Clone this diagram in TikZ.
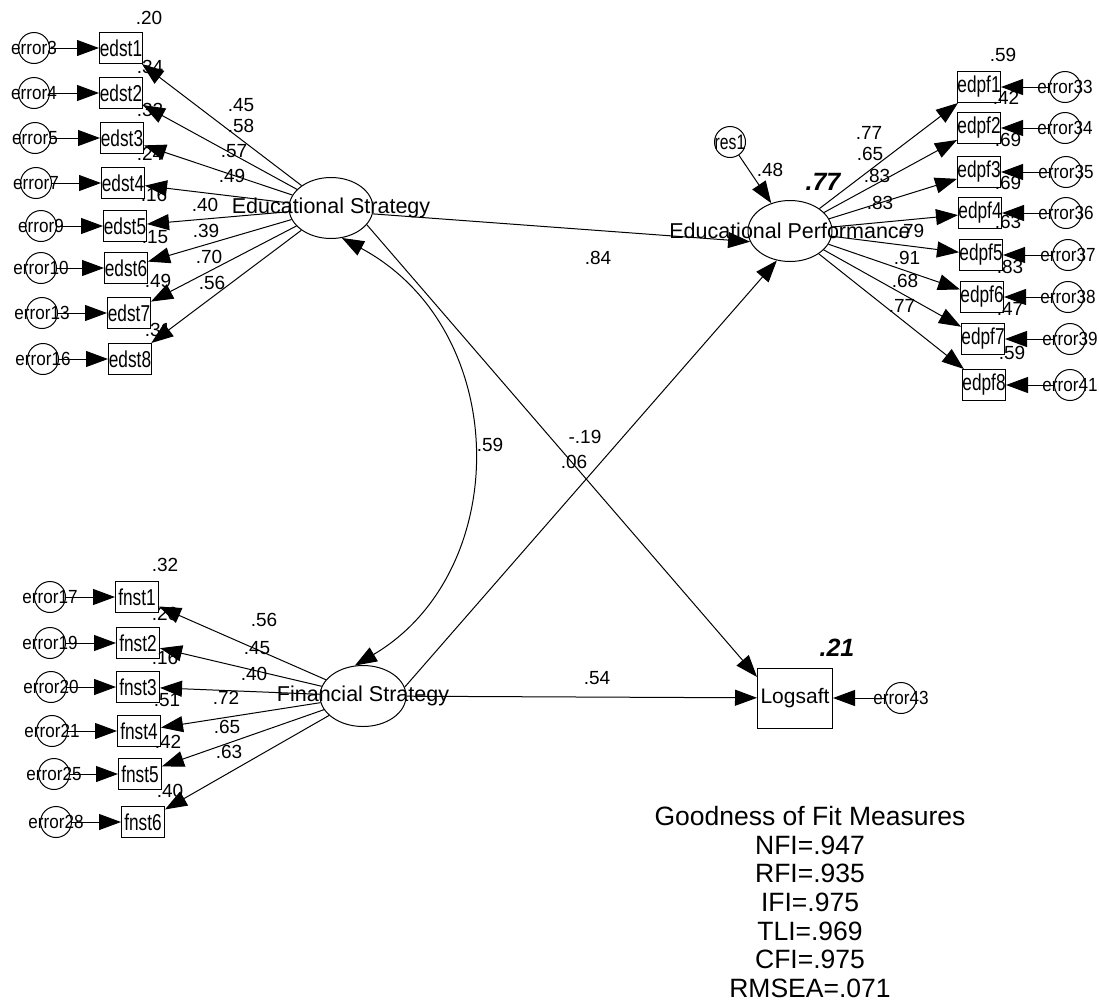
\documentclass[tikz,border=0pt]{standalone}
\usepackage{fontspec}
\setmainfont{Liberation Sans}
\newfontfamily\narrowsf[FakeStretch=0.75]{Liberation Sans}
\newfontfamily\errsf[FakeStretch=0.9]{Liberation Sans}
\usetikzlibrary{arrows.meta,shapes.geometric}

\newcommand{\nowd}[1]{\makebox[0pt]{#1}}

\begin{document}
\begin{tikzpicture}[x=1pt,y=-1pt,line width=1pt,
  every node/.style={font=\fontsize{19}{22}\selectfont},
  >={Triangle[length=22pt,width=16pt]},
  obs/.style={draw,rectangle,minimum width=43pt,minimum height=31pt,inner sep=0pt,font=\narrowsf\fontsize{23}{26}\selectfont},
  err/.style={draw,circle,minimum size=31pt,inner sep=0pt,font=\errsf\fontsize{19}{22}\selectfont},
  lat/.style={draw,ellipse,minimum width=84pt,minimum height=61pt,inner sep=0pt,font=\fontsize{21.5}{25}\selectfont},
  lbl/.style={inner sep=0pt},
  big/.style={inner sep=0pt,font=\fontsize{25}{28}\bfseries\itshape}]
\useasboundingbox (0,0) rectangle (1099,1007);
% latent variables
\node[lat] (es) at (331,208) {\nowd{Educational Strategy}};
\node[lat] (ep) at (790,231) {\nowd{Educational Performance}};
\node[lat,minimum width=86pt] (fs) at (363,696) {\nowd{Financial Strategy}};
\node[obs,minimum width=75pt,minimum height=60pt,font=\fontsize{21}{24}\selectfont] (ls) at (795,698) {\nowd{Logsaft}};
\node[err,font=\narrowsf\fontsize{21}{24}\selectfont] (res1) at (730,142) {\nowd{res1}};
\node[err] (e43) at (901,698) {\nowd{error43}};
% educational strategy indicators
\node[obs] (edst1) at (121,48) {\nowd{edst1}};
\node[obs] (edst2) at (121,93) {\nowd{edst2}};
\node[obs] (edst3) at (122,138) {\nowd{edst3}};
\node[obs] (edst4) at (123,183) {\nowd{edst4}};
\node[obs] (edst5) at (125,226) {\nowd{edst5}};
\node[obs] (edst6) at (126,268) {\nowd{edst6}};
\node[obs] (edst7) at (129,313) {\nowd{edst7}};
\node[obs] (edst8) at (130,359) {\nowd{edst8}};
\node[err] (e3) at (34,48) {\nowd{error3}};
\node[err] (e4) at (34,93) {\nowd{error4}};
\node[err] (e5) at (35,138) {\nowd{error5}};
\node[err] (e7) at (36,183) {\nowd{error7}};
\node[err] (e9) at (41,226) {\nowd{error9}};
\node[err] (e10) at (41,268) {\nowd{error10}};
\node[err] (e13) at (42,313) {\nowd{error13}};
\node[err] (e16) at (43,359) {\nowd{error16}};
% educational performance indicators
\node[obs] (edpf1) at (979,87) {\nowd{edpf1}};
\node[obs] (edpf2) at (979,128) {\nowd{edpf2}};
\node[obs] (edpf3) at (979,172) {\nowd{edpf3}};
\node[obs] (edpf4) at (980,213) {\nowd{edpf4}};
\node[obs] (edpf5) at (981,255) {\nowd{edpf5}};
\node[obs] (edpf6) at (982,297) {\nowd{edpf6}};
\node[obs] (edpf7) at (983,339) {\nowd{edpf7}};
\node[obs] (edpf8) at (984,385) {\nowd{edpf8}};
\node[err] (e33) at (1065,87) {\nowd{error33}};
\node[err] (e34) at (1065,128) {\nowd{error34}};
\node[err] (e35) at (1066,172) {\nowd{error35}};
\node[err] (e36) at (1066,213) {\nowd{error36}};
\node[err] (e37) at (1068,255) {\nowd{error37}};
\node[err] (e38) at (1068,297) {\nowd{error38}};
\node[err] (e39) at (1070,339) {\nowd{error39}};
\node[err] (e41) at (1070,385) {\nowd{error41}};
% financial strategy indicators
\node[obs] (fnst1) at (137,597) {\nowd{fnst1}};
\node[obs] (fnst2) at (138,643) {\nowd{fnst2}};
\node[obs] (fnst3) at (138,687) {\nowd{fnst3}};
\node[obs] (fnst4) at (139,731) {\nowd{fnst4}};
\node[obs] (fnst5) at (140,774) {\nowd{fnst5}};
\node[obs] (fnst6) at (143,822) {\nowd{fnst6}};
\node[err] (e17) at (50,597) {\nowd{error17}};
\node[err] (e19) at (50,643) {\nowd{error19}};
\node[err] (e20) at (51,687) {\nowd{error20}};
\node[err] (e21) at (52,731) {\nowd{error21}};
\node[err] (e25) at (54,774) {\nowd{error25}};
\node[err] (e28) at (56,822) {\nowd{error28}};
% error arrows
\draw[->] (e3)--(edst1); \draw[->] (e4)--(edst2); \draw[->] (e5)--(edst3); \draw[->] (e7)--(edst4);
\draw[->] (e9)--(edst5); \draw[->] (e10)--(edst6); \draw[->] (e13)--(edst7); \draw[->] (e16)--(edst8);
\draw[->] (e33)--(edpf1); \draw[->] (e34)--(edpf2); \draw[->] (e35)--(edpf3); \draw[->] (e36)--(edpf4);
\draw[->] (e37)--(edpf5); \draw[->] (e38)--(edpf6); \draw[->] (e39)--(edpf7); \draw[->] (e41)--(edpf8);
\draw[->] (e17)--(fnst1); \draw[->] (e19)--(fnst2); \draw[->] (e20)--(fnst3);
\draw[->] (e21)--(fnst4); \draw[->] (e25)--(fnst5); \draw[->] (e28)--(fnst6);
\draw[->] (e43)--(ls); \draw[->] (res1)--(ep);
% loadings
\draw[->] (es)--(edst1); \draw[->] (es)--(edst2); \draw[->] (es)--(edst3); \draw[->] (es)--(edst4);
\draw[->] (es)--(edst5); \draw[->] (es)--(edst6); \draw[->] (es)--(edst7); \draw[->] (es)--(edst8);
\draw[->] (ep)--(edpf1); \draw[->] (ep)--(edpf2); \draw[->] (ep)--(edpf3); \draw[->] (ep)--(edpf4);
\draw[->] (ep)--(edpf5); \draw[->] (ep)--(edpf6); \draw[->] (ep)--(edpf7); \draw[->] (ep)--(edpf8);
\draw[->] (fs)--(fnst1); \draw[->] (fs)--(fnst2); \draw[->] (fs)--(fnst3);
\draw[->] (fs)--(fnst4); \draw[->] (fs)--(fnst5); \draw[->] (fs)--(fnst6);
% structural paths
\draw[->] (es.-8)--(ep.195);
\draw[->] (es.-25)--(ls.151);
\draw[->] (fs.12)--(ep.-114);
\draw[->] (fs)--(ls);
\draw[<->] (es.-70) .. controls (513,330) and (513,572) .. (fs.105);
% squared multiple correlations
\node[lbl] (r1) at (149,18) {.20};
\node[lbl] (r2) at (150,67) {.34};
\node[lbl] (r3) at (150,110) {.32};
\node[lbl] (r4) at (150,154) {.24};
\node[lbl] (r5) at (154,195) {.16};
\node[lbl] (r6) at (155,237) {.15};
\node[lbl] (r7) at (158,281) {.49};
\node[lbl] (r8) at (158,330) {.31};
\node[lbl] (pr1) at (1003,55) {.59};
\node[lbl] (pr2) at (1006,98) {.42};
\node[lbl] (pr3) at (1008,140) {.69};
\node[lbl] (pr4) at (1008,183) {.69};
\node[lbl] (pr5) at (1008,222) {.63};
\node[lbl] (pr6) at (1010,267) {.83};
\node[lbl] (pr7) at (1010,309) {.47};
\node[lbl] (pr8) at (1012,353) {.59};
\node[lbl] (fr1) at (165,565) {.32};
\node[lbl] (fr2) at (165,614) {.20};
\node[lbl] (fr3) at (165,658) {.16};
\node[lbl] (fr4) at (167,700) {.51};
\node[lbl] (fr5) at (168,742) {.42};
\node[lbl] (fr6) at (170,791) {.40};
% loading values
\node[lbl] (a1) at (241,105) {.45};
\node[lbl] (a2) at (241,126) {.58};
\node[lbl] (a3) at (234,151) {.57};
\node[lbl] (a4) at (232,176) {.49};
\node[lbl] (a5) at (205,205) {.40};
\node[lbl] (a6) at (206,231) {.39};
\node[lbl] (a7) at (209,257) {.70};
\node[lbl] (a8) at (212,283) {.56};
\node[lbl] (pa1) at (869,133) {.77};
\node[lbl] (pa2) at (870,154) {.65};
\node[lbl] (pa3) at (877,176) {.83};
\node[lbl] (pa4) at (880,203) {.83};
\node[lbl] (pa5) at (911,231) {.79};
\node[lbl] (pa6) at (907,258) {.91};
\node[lbl] (pa7) at (905,281) {.68};
\node[lbl] (pa8) at (902,306) {.77};
\node[lbl] (fa1) at (264,620) {.56};
\node[lbl] (fa2) at (257,648) {.45};
\node[lbl] (fa3) at (254,674) {.40};
\node[lbl] (fa4) at (226,698) {.72};
\node[lbl] (fa5) at (227,727) {.65};
\node[lbl] (fa6) at (229,752) {.63};
% path values
\node[lbl] (b84) at (598,258) {.84};
\node[lbl] (b19) at (585,437) {-.19};
\node[lbl] (b06) at (574,462) {.06};
\node[lbl] (b54) at (597,678) {.54};
\node[lbl] (c59) at (490,445) {.59};
\node[lbl] (g48) at (770,170) {.48};
\node[big] (q77) at (823,182) {.77};
\node[big] (q21) at (837,648) {.21};
% fit measures
\node[align=center,font=\fontsize{26.5}{28.7}\selectfont] (gof) at (810,902) {Goodness of Fit Measures\\NFI=.947\\RFI=.935\\IFI=.975\\TLI=.969\\CFI=.975\\RMSEA=.071};
\end{tikzpicture}
\end{document}
